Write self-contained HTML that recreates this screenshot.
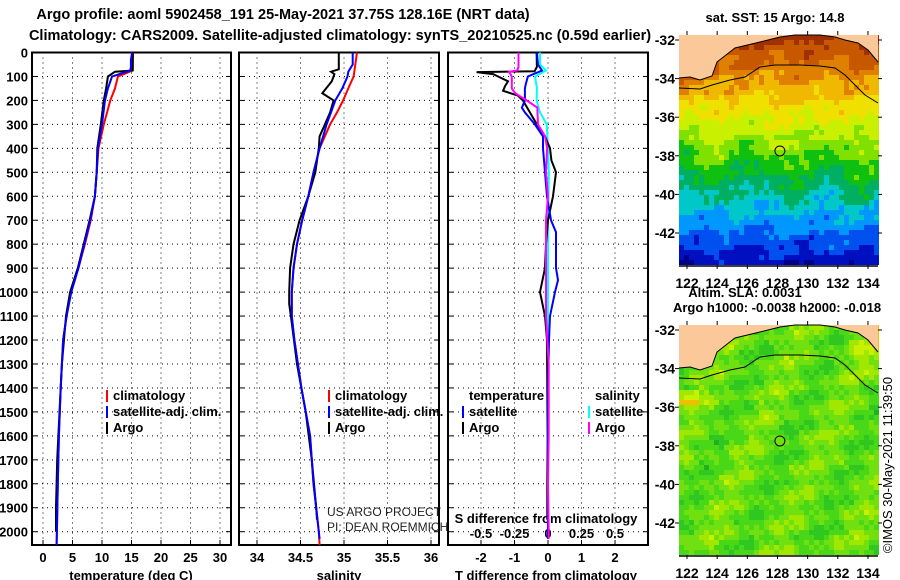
<!DOCTYPE html>
<html><head><meta charset="utf-8">
<style>
html,body{margin:0;padding:0;background:#fff;}
svg{display:block;font-family:"Liberation Sans",Arial,sans-serif;}
.b{font-weight:bold;}
</style></head>
<body>
<svg id="chart" width="900" height="580" viewBox="0 0 900 580" xmlns="http://www.w3.org/2000/svg">
<text class="b" x="283" y="19" font-size="14.5" text-anchor="middle">Argo profile: aoml 5902458_191 25-May-2021 37.75S 128.16E (NRT data)</text>
<text class="b" x="340" y="40" font-size="14.5" text-anchor="middle">Climatology: CARS2009. Satellite-adjusted climatology: synTS_20210525.nc (0.59d earlier)</text>
<g id="panels"></g>
<g id="maps"></g>
</svg>
<script>
// ---------- data ----------
const depthTicks=[0,100,200,300,400,500,600,700,800,900,1000,1100,1200,1300,1400,1500,1600,1700,1800,1900,2000];
const tTicks=[0,5,10,15,20,25,30];
const sTicks=[34,34.5,35,35.5,36];
const dTTicks=[-2,-1,0,1,2];
const dSTickLabels=["-0.5","-0.25","0","0.25","0.5"];
const dSTicks=[-0.5,-0.25,0,0.25,0.5];

const tClimDepth=[0,75,100,150,200,300,400,500,600,700,800,900,1000,1100,1200,1400,1600,1800,2000,2055];
const tClim=[15.25,15.2,12.7,12.2,11.4,10.3,9.4,9.1,8.8,8.1,7.1,6.0,4.7,4.0,3.4,3.0,2.7,2.5,2.35,2.3];
const tSatDepth=[0,30,60,75,100,150,200,300,400,500,600,700,800,900,1000,1100,1200,1400,1600,1800,2000,2055];
const tSat=[15.1,14.9,14.9,14.8,11.7,11.0,10.5,10.0,9.3,9.1,8.8,8.0,7.0,6.0,4.8,4.0,3.4,3.0,2.7,2.5,2.35,2.3];
const tArgoDepth=[0,75,80,100,150,200,300,400,500,600,700,800,900,1000,1100,1300,1500,1700,1900,2000];
const tArgo=[15.2,15.2,12.2,11.0,10.7,10.3,9.8,9.2,9.1,8.8,7.9,6.9,5.9,4.6,3.9,3.2,2.8,2.4,2.2,2.2];

const sClimDepth=[0,100,150,200,250,300,400,500,600,700,800,900,1000,1100,1200,1400,1600,1800,1900,2000,2055];
const sClim=[35.15,35.11,35.05,34.99,34.92,34.84,34.72,34.65,34.59,34.52,34.46,34.42,34.40,34.40,34.43,34.51,34.61,34.65,34.68,34.71,34.72];
const sSatDepth=[0,50,80,100,150,200,250,300,400,500,600,700,800,900,1000,1100,1200,1400,1600,1800,1900,2000,2030];
const sSat=[35.10,35.10,35.05,35.04,34.98,34.90,34.85,34.80,34.72,34.65,34.59,34.52,34.46,34.42,34.40,34.40,34.43,34.51,34.61,34.65,34.68,34.71,34.72];
const sArgoDepth=[0,70,80,90,120,170,200,250,300,350,400,500,600,700,800,900,1000,1050,1100,1300,1500,1700,1900,1950];
const sArgo=[34.94,34.94,34.85,34.89,34.86,34.75,34.88,34.84,34.78,34.72,34.71,34.67,34.59,34.49,34.42,34.38,34.37,34.37,34.39,34.46,34.56,34.63,34.68,34.69];

const dTArgoDepth=[0,60,78,82,90,100,120,140,160,180,200,250,300,350,400,450,500,600,700,800,900,1000,1100,1200,1400,1600,1800,1950];
const dTArgo=[-0.34,-0.33,-0.4,-2.13,-1.64,-1.49,-1.19,-1.28,-1.34,-0.9,-0.75,-0.54,-0.33,-0.09,0.06,0.1,0.24,0.15,0.0,-0.06,-0.09,-0.24,-0.09,-0.03,-0.02,-0.01,-0.02,-0.02];
const dTSatDepth=[0,50,75,100,130,150,200,230,250,300,350,400,500,600,700,750,800,900,950,1000,1100,1200,1400,1600,1800,2000,2030];
const dTSat=[-0.33,-0.3,-0.18,-0.6,-0.66,-0.69,-0.69,-0.78,-0.69,-0.39,-0.15,-0.15,-0.09,-0.03,0.09,0.24,0.24,0.24,0.3,0.21,0.06,0.03,0.0,0.0,0.0,0.0,0.0];
const dSArgoDepth=[0,60,75,80,100,150,170,200,230,300,350,400,500,600,700,800,1100,1300,1600,1800,2000,2030];
const dSArgo=[-0.22,-0.22,-0.23,-0.29,-0.27,-0.27,-0.245,-0.16,-0.08,-0.075,-0.022,-0.007,-0.015,0.0,-0.015,-0.015,-0.015,0.005,0.005,0.0,0.005,0.005];
const dSSatDepth=[0,50,75,100,150,200,250,300,400,500,700,1000,1500,2000,2030];
const dSSat=[-0.06,-0.06,-0.015,-0.097,-0.082,-0.085,-0.06,-0.01,0.0,0.007,0.0,0.0,-0.005,0.0,0.0];

// ---------- helpers ----------
const NS="http://www.w3.org/2000/svg";
const root=document.getElementById('panels');
function mk(tag,attrs,parent,txt){const e=document.createElementNS(NS,tag);for(const k in attrs)e.setAttribute(k,attrs[k]);if(txt!==undefined)e.textContent=txt;(parent||root).appendChild(e);return e;}
const Y0=52.5,YK=0.2396,BOT=545;
const yD=d=>Y0+d*YK;
const xT=v=>43+v*5.9;
const xS=v=>257+(v-34)*87;
const xDT=v=>548+v*33.5;
const xDS=v=>548+v*134;
const panels=[[32,231],[239,439],[448,648]];

panels.forEach((p,i)=>{
  const g=mk('g',{});
  
  
  depthTicks.forEach(d=>{
    if(d===0)return;
    const l=mk('line',{x1:p[0],x2:p[1],y1:yD(d),y2:yD(d),stroke:'#000','stroke-width':1,'stroke-dasharray':'1,4'},g);
    
    
    mk('line',{x1:p[0],x2:p[0]+5,y1:yD(d),y2:yD(d),stroke:'#000'},g);
    mk('line',{x1:p[1]-5,x2:p[1],y1:yD(d),y2:yD(d),stroke:'#000'},g);
  });
  const ticks=i===0?tTicks.map(xT):i===1?sTicks.map(xS):dTTicks.map(xDT);
  ticks.forEach(x=>{
    const l=mk('line',{x1:x,x2:x,y1:Y0,y2:BOT,stroke:'#000','stroke-width':1,'stroke-dasharray':'1,4'},g);
    
    
    mk('line',{x1:x,x2:x,y1:BOT-5,y2:BOT,stroke:'#000'},g);
  });
  const r=mk('rect',{x:p[0],y:Y0,width:p[1]-p[0],height:BOT-Y0,fill:'none',stroke:'#000','stroke-width':2},g);
  
  
});
depthTicks.forEach(d=>{
  const t=mk('text',{x:28,y:yD(d)+5,'font-size':13,'font-weight':'bold','text-anchor':'end'},root,String(d));
  
  
});
function xl(vals,fx,labels){vals.forEach((v,i)=>{const t=mk('text',{x:fx(v),y:562,'font-size':13,'font-weight':'bold','text-anchor':'middle'},root,labels?labels[i]:String(v));
  
  });}
xl(tTicks,xT);xl(sTicks,xS);xl(dTTicks,xDT);
[['temperature (deg C)',131,'x-axis-title-temperature'],['salinity',339,'x-axis-title-salinity'],['T difference from climatology',546,'x-axis-title-t-difference']].forEach(a=>{
  const t=mk('text',{x:a[1],y:580,'font-size':13,'font-weight':'bold','text-anchor':'middle'},root,a[0]);
  
  
});
dSTicks.forEach((v,i)=>{const t=mk('text',{x:xDS(v),y:538,'font-size':13,'font-weight':'bold','text-anchor':'middle'},root,dSTickLabels[i]);
  
  });
{const t=mk('text',{x:546,y:523,'font-size':13,'font-weight':'bold','text-anchor':'middle'},root,'S difference from climatology');
  
  }
{const t=mk('text',{x:327,y:516,'font-size':12,fill:'#222'},root,'US ARGO PROJECT');
  
  }
{const t=mk('text',{x:327,y:531,'font-size':12,fill:'#222'},root,'PI: DEAN ROEMMICH');
  
  }

function series(depths,vals,fx,color,name){
  let d='';
  for(let i=0;i<depths.length;i++){
    const x=fx(vals[i]).toFixed(1),y=yD(depths[i]).toFixed(1);
    d+=(i?'L':'M')+x+','+y;
  }
  const p=mk('path',{d:d,fill:'none',stroke:color,'stroke-width':2,'stroke-linejoin':'miter'});
  
  
}
series(tClimDepth,tClim,xT,'#ff0000','temp-climatology-line');
series(tArgoDepth,tArgo,xT,'#000000','temp-argo-line');
series(tSatDepth,tSat,xT,'#0000ff','temp-satellite-line');
series(sClimDepth,sClim,xS,'#ff0000','sal-climatology-line');
series(sArgoDepth,sArgo,xS,'#000000','sal-argo-line');
series(sSatDepth,sSat,xS,'#0000ff','sal-satellite-line');
series(dSSatDepth,dSSat,xDS,'#00ffff','s-diff-satellite-line');
series(dTArgoDepth,dTArgo,xDT,'#000000','t-diff-argo-line');
series(dTSatDepth,dTSat,xDT,'#0000ff','t-diff-satellite-line');
series(dSArgoDepth,dSArgo,xDS,'#ff00ff','s-diff-argo-line');

function leg(x,y,color,label,name){
  const g=mk('g',{});
  
  
  if(color)mk('rect',{x:x-7,y:y-10,width:2,height:12,fill:color},g);
  mk('text',{x:x,y:y,'font-size':13,'font-weight':'bold'},g,label);
}
leg(113,400,'#ff0000','climatology','legend-temp-climatology');
leg(113,416,'#0000ff','satellite-adj. clim.','legend-temp-satellite');
leg(113,432,'#000000','Argo','legend-temp-argo');
leg(335,400,'#ff0000','climatology','legend-sal-climatology');
leg(335,416,'#0000ff','satellite-adj. clim.','legend-sal-satellite');
leg(335,432,'#000000','Argo','legend-sal-argo');
leg(469,400,null,'temperature','legend-temperature-header');
leg(595,400,null,'salinity','legend-salinity-header');
leg(469,416,'#0000ff','satellite','legend-tdiff-satellite');
leg(469,432,'#000000','Argo','legend-tdiff-argo');
leg(595,416,'#00ffff','satellite','legend-sdiff-satellite');
leg(595,432,'#ff00ff','Argo','legend-sdiff-argo');

// ---------- maps ----------
const mroot=document.getElementById('maps');
const lonTicks=[122,124,126,128,130,132,134];
const latTicks=[-32,-34,-36,-38,-40,-42];
const MX0=679,MX1=878;
const xLon=l=>687+(l-122)*15.08;
const coast=[[679,78],[690,77],[700,80],[712,76],[717,62],[735,48],[760,42],[780,37],[795,35],[820,35],[835,37],[845,40],[858,43],[868,50],[878,62]];
const shelf=[[679,88],[700,89],[712,85],[730,80],[745,77],[760,67],[775,65],[800,65],[820,66],[835,68],[845,75],[855,85],[865,95],[878,103]];
const sstCols=['#00008c','#0010c0','#0050f0','#0098ff','#00c8c8','#00b060','#10c010','#80e000','#c8f000','#f0e000','#f0b800','#e08000','#c85800','#a03000'];
const slaCols=['#20b020','#30c820','#48d818','#70e010','#a0e800','#c8f000','#f0c000','#f09000'];
function noise(x,y){return Math.sin(x*0.11+y*0.05)*0.5+Math.sin(x*0.31-y*0.17)*0.3+Math.sin(x*0.05+y*0.29)*0.4+Math.sin(x*0.7+y*0.9)*0.25;}
function drawMap(yTop,kind){
  const g=mk('g',{},mroot);
  
  
  const H=230,cs=5;
  for(let yy=0;yy<H;yy+=cs){
    for(let xx=0;xx<MX1-MX0;xx+=cs){
      const x=MX0+xx,y=yTop+yy;
      let c;
      if(kind==='sst'){
        let v=12.8-yy*0.053+noise(x,yy)*0.7+(yy>100&&yy<170?Math.sin(x*0.09)*0.6:0);
        if(yy<60&&xx<40)v+=0.6;
        v=Math.max(0,Math.min(13,Math.round(v)));
        c=sstCols[v];
      }else{
        let v=2.6+noise(x*0.8,yy*0.8)*1.6;
        if(xx>160&&yy<60)v+=3*(1-yy/60)*((xx-160)/40);
        if(xx<20&&yy>60&&yy<80)v+=2;
        v=Math.max(0,Math.min(7,Math.round(v)));
        c=slaCols[v];
      }
      mk('rect',{x:x,y:y,width:cs,height:cs,fill:c},g);
    }
  }
  const off=yTop-35;
  let pd='M'+MX0+','+yTop+' '+coast.map(p=>'L'+p[0]+','+(p[1]+off)).join(' ')+' L'+MX1+','+yTop+'Z';
  const land=mk('path',{d:pd,fill:'#fbc89a'},g);
  
  
  mk('polyline',{points:coast.map(p=>p[0]+','+(p[1]+off)).join(' '),fill:'none',stroke:'#000','stroke-width':1},g);
  const sh=mk('polyline',{points:shelf.map(p=>p[0]+','+(p[1]+off)).join(' '),fill:'none',stroke:'#000','stroke-width':1},g);
  
  
  const yLat=l=>yTop+5+(-32-l)*19.3;
  const ci=mk('circle',{cx:xLon(128.16),cy:yLat(-37.75),r:5,fill:'none',stroke:'#000','stroke-width':1},g);
  
  
  lonTicks.forEach(l=>{
    mk('line',{x1:xLon(l),x2:xLon(l),y1:yTop-4,y2:yTop,stroke:'#000'},g);
    mk('line',{x1:xLon(l),x2:xLon(l),y1:yTop+H,y2:yTop+H+4,stroke:'#000'},g);
    const t=mk('text',{x:xLon(l),y:yTop+H+23,'font-size':14,'font-weight':'bold','text-anchor':'middle'},g,String(l));
    
    
  });
  latTicks.forEach(l=>{
    mk('line',{x1:MX0-4,x2:MX0,y1:yLat(l),y2:yLat(l),stroke:'#000'},g);
    mk('line',{x1:MX1,x2:MX1+4,y1:yLat(l),y2:yLat(l),stroke:'#000'},g);
    const t=mk('text',{x:MX0-4,y:yLat(l)+5,'font-size':14,'font-weight':'bold','text-anchor':'end'},g,String(l));
    
    
  });
  mk('line',{x1:MX0,x2:MX1,y1:yTop+H+1,y2:yTop+H+1,stroke:'#000','stroke-width':1.5},g);
}
drawMap(35,'sst');
drawMap(325,'sla');
function mt(x,y,s,name,size){const t=mk('text',{x:x,y:y,'font-size':size||13,'font-weight':'bold','text-anchor':'middle'},mroot,s);
  
  }
mt(775,22,'sat. SST: 15 Argo: 14.8','sst-map-title');
mt(745,297,'Altim. SLA: 0.0031','sla-map-title');
mt(777,312,'Argo h1000: -0.0038 h2000: -0.018','argo-height-label');
{const t=mk('text',{x:0,y:0,'font-size':13,'text-anchor':'middle',transform:'translate(892,465) rotate(-90)'},mroot,'©IMOS 30-May-2021 11:39:50');
  
  }
</script>
</body></html>
